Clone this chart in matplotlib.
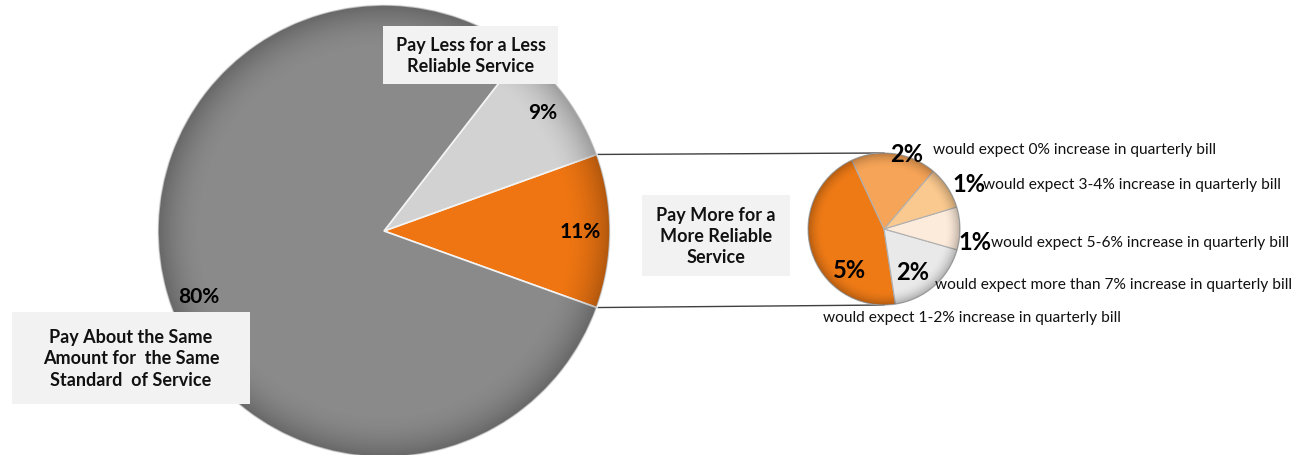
import numpy as np
import matplotlib.pyplot as plt
from matplotlib.patches import Circle, Rectangle

plt.rcParams['font.family'] = ['Lato', 'DejaVu Sans']

# ---------------------------
# Data
# ---------------------------
main_labels = ['Pay More for a\nMore Reliable\nService',
               'Pay Less for a Less\nReliable Service',
               'Pay About the Same\nAmount for  the Same\nStandard  of Service']
main_values = [11, 9, 80]
main_colors = ['#EE7512', '#D2D2D2', '#8A8A8A']

sub_labels = ['would expect 1-2% increase in quarterly bill',
              'would expect more than 7% increase in quarterly bill',
              'would expect 5-6% increase in quarterly bill',
              'would expect 3-4% increase in quarterly bill',
              'would expect 0% increase in quarterly bill']
sub_values = [5, 2, 1, 1, 2]
sub_colors = ['#EE7A16', '#E9E9E9', '#FCEADA', '#FAC98F', '#F6A457']

# ---------------------------
# Canvas in pixel units (y measured from the bottom)
# ---------------------------
W, H = 1312, 456
fig = plt.figure(figsize=(W / 100, H / 100), dpi=100)
ax = fig.add_axes([0, 0, 1, 1])
ax.axis('off')


def Y(y):
    return H - y


main_c = (384, Y(232))
main_r = 226
sub_c = (884, Y(230))
sub_r = 76

# main pie, "more reliable" slice centred on the right
half = main_values[0] / sum(main_values) * 360 / 2
wedges, _ = ax.pie(main_values, colors=main_colors, startangle=-half,
                   center=main_c, radius=main_r, counterclock=True,
                   wedgeprops=dict(edgecolor='#F4F4F4', linewidth=1.2))

# breakdown pie
sub_w, _ = ax.pie(sub_values, colors=sub_colors, startangle=115,
                  center=sub_c, radius=sub_r, counterclock=True,
                  wedgeprops=dict(edgecolor='#B0B0B0', linewidth=0.8))


def shade(center, r):
    # darker rim to give the pies some depth
    n = 300
    g = np.linspace(-1, 1, n)
    xx, yy = np.meshgrid(g, g)
    d = np.sqrt(xx ** 2 + yy ** 2)
    img = np.zeros((n, n, 4))
    img[..., 3] = np.clip((d - 0.8) / 0.2, 0, 1) ** 2 * 0.25
    clip = Circle(center, r, transform=ax.transData)
    im = ax.imshow(img, extent=(center[0] - r, center[0] + r, center[1] - r, center[1] + r),
                   zorder=3, interpolation='bilinear')
    im.set_clip_path(clip)


shade(main_c, main_r)
shade(sub_c, sub_r)

# connector lines from the orange slice to the breakdown pie
for s in (1, -1):
    a = np.deg2rad(s * half)
    x0 = main_c[0] + main_r * np.cos(a)
    y0 = main_c[1] + main_r * np.sin(a)
    ax.plot([x0, sub_c[0]], [y0, sub_c[1] + s * sub_r], color='#404040', lw=1, zorder=0.5)

ax.set_xlim(0, W)
ax.set_ylim(0, H)
ax.set_aspect('equal')

# ---------------------------
# Labels
# ---------------------------
def boxed(x0, y0, x1, y1, text):
    ax.add_patch(Rectangle((x0, Y(y1)), x1 - x0, y1 - y0, facecolor='#F2F2F2',
                           edgecolor='none', zorder=5))
    ax.text((x0 + x1) / 2, Y((y0 + y1) / 2), text, ha='center', va='center',
            fontsize=13, fontweight='bold', color='#111111', linespacing=1.3, zorder=6)


boxed(383, 27, 558, 85, main_labels[1])
boxed(12, 313, 250, 405, main_labels[2])
boxed(642, 196, 790, 277, main_labels[0])

pct = lambda v: f'{v}%'
ax.text(543, Y(113), pct(main_values[1]), ha='center', va='center', fontsize=15, fontweight='bold', zorder=6)
ax.text(580, Y(232), pct(main_values[0]), ha='center', va='center', fontsize=15, fontweight='bold', zorder=6)
ax.text(199, Y(297), pct(main_values[2]), ha='center', va='center', fontsize=15, fontweight='bold', zorder=6)

sub_pct_pos = [(850, 270), (913, 273), (975, 243), (969, 185), (907, 155)]
for v, (x, y) in zip(sub_values, sub_pct_pos):
    ax.text(x, Y(y), pct(v), ha='center', va='center', fontsize=17, fontweight='bold', zorder=6)

sub_text_pos = [(823, 318), (935, 285), (991, 243), (983, 185), (933, 150)]
for t, (x, y) in zip(sub_labels, sub_text_pos):
    ax.text(x, Y(y), t, ha='left', va='center', fontsize=11.2, color='#111111', zorder=6)

fig.savefig('out.png', dpi=100)
